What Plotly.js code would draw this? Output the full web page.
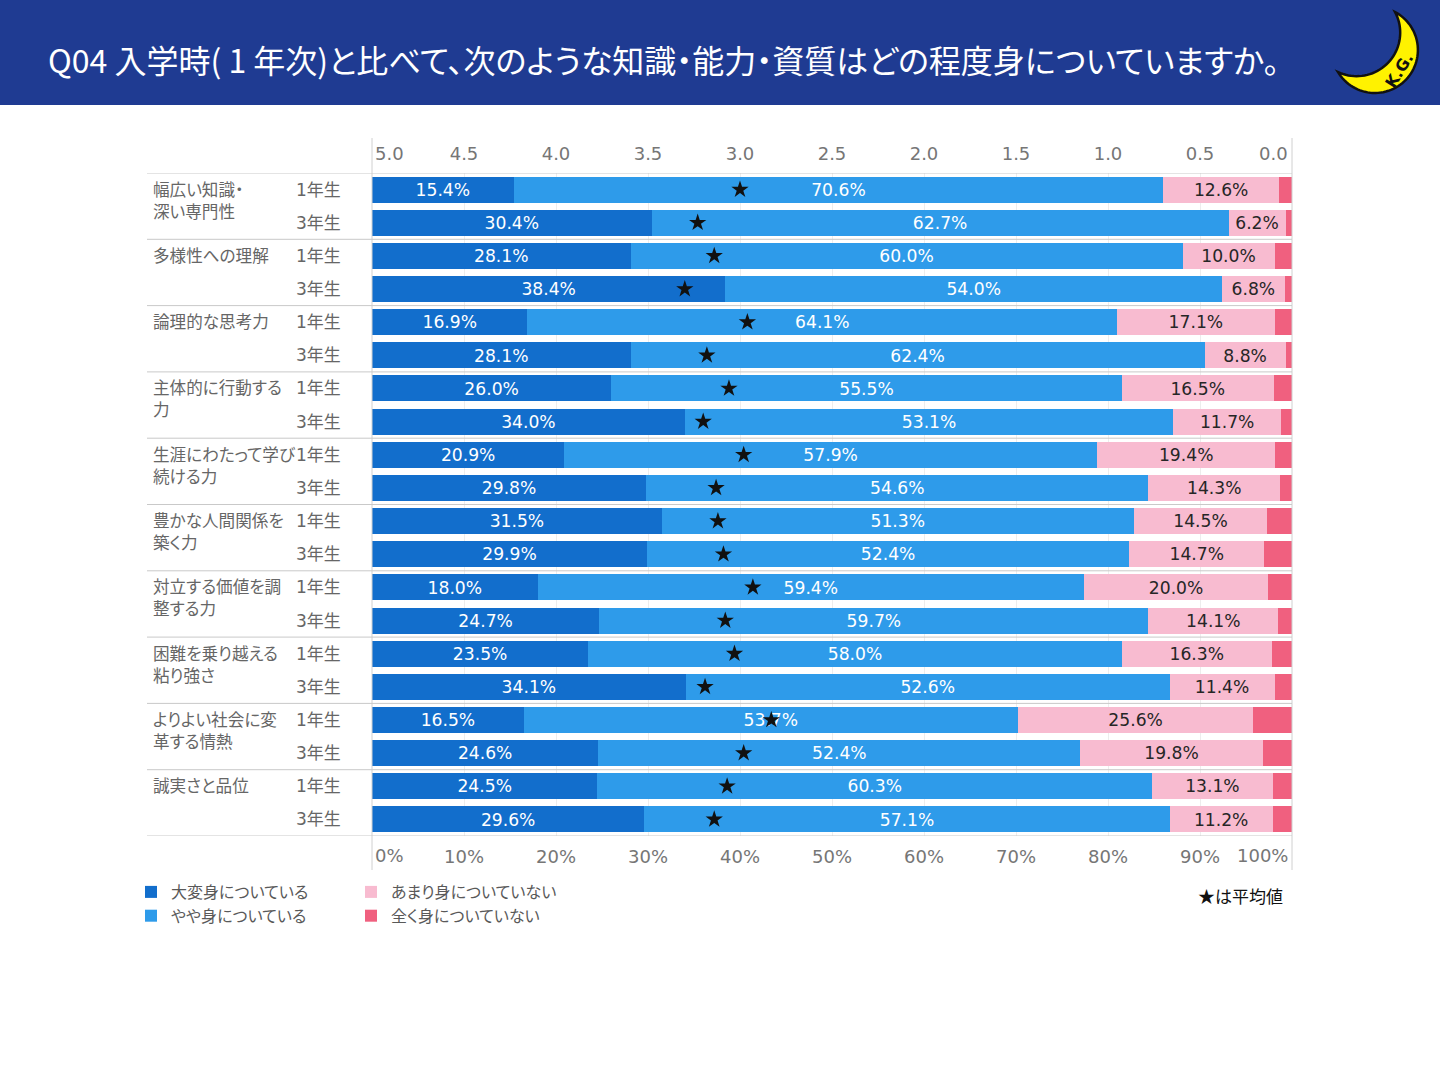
<!DOCTYPE html>
<html>
<head>
<meta charset="utf-8">
<script src="https://cdn.plot.ly/plotly-3.0.1.min.js"></script>
<style>
html,body{margin:0;padding:0;background:#fff;}
#chart{width:1440px;height:1080px;}
#chart text{font-feature-settings:"palt" 1;}
</style>
</head>
<body>
<div id="chart"></div>
<script>
// ---- data ----
const categories = [
  '幅広い知識・<br>深い専門性',
  '多様性への理解',
  '論理的な思考力',
  '主体的に行動する<br>力',
  '生涯にわたって学び<br>続ける力',
  '豊かな人間関係を<br>築く力',
  '対立する価値を調<br>整する力',
  '困難を乗り越える<br>粘り強さ',
  'よりよい社会に変<br>革する情熱',
  '誠実さと品位'
];
const years = ['1年生', '3年生'];
const seriesNames = ['大変身についている', 'やや身についている', 'あまり身についていない', '全く身についていない'];
const v1 = [15.4, 30.4, 28.1, 38.4, 16.9, 28.1, 26.0, 34.0, 20.9, 29.8, 31.5, 29.9, 18.0, 24.7, 23.5, 34.1, 16.5, 24.6, 24.5, 29.6];
const v2 = [70.6, 62.7, 60.0, 54.0, 64.1, 62.4, 55.5, 53.1, 57.9, 54.6, 51.3, 52.4, 59.4, 59.7, 58.0, 52.6, 53.7, 52.4, 60.3, 57.1];
const v3 = [12.6, 6.2, 10.0, 6.8, 17.1, 8.8, 16.5, 11.7, 19.4, 14.3, 14.5, 14.7, 20.0, 14.1, 16.3, 11.4, 25.6, 19.8, 13.1, 11.2];
const v4 = [1.4, 0.7, 1.9, 0.8, 1.9, 0.7, 2.0, 1.2, 1.8, 1.3, 2.7, 3.0, 2.6, 1.5, 2.2, 1.9, 4.2, 3.2, 2.1, 2.1];
const avg = [3.00, 3.23, 3.14, 3.30, 2.96, 3.18, 3.06, 3.20, 2.98, 3.13, 3.12, 3.09, 2.93, 3.08, 3.03, 3.19, 2.83, 2.98, 3.07, 3.14];
const pctTicks = [10, 20, 30, 40, 50, 60, 70, 80, 90];
const avgTicks = [4.5, 4.0, 3.5, 3.0, 2.5, 2.0, 1.5, 1.0, 0.5];

// ---- styling / layout helpers ----
const colors = ['#126ECC', '#2E9BEA', '#F8BBD0', '#F0607F'];
const textColors = ['#FFFFFF', '#FFFFFF', '#262626', null];
const FONT = 'DejaVu Sans, Noto Sans CJK JP, sans-serif';
const JP = 'Noto Sans CJK JP, DejaVu Sans, sans-serif';
const L = 372, R = 1292, T = 173, B = 836, W = 1440, H = 1080;
const px = x => (x - L) / (R - L);
const py = y => (B - y) / (B - T);

const rowKeys = [];
categories.forEach((c, g) => years.forEach(yr => rowKeys.push(g + '|' + yr)));

const vals = [v1, v2, v3, v4];
const traces = vals.map((v, i) => ({
  type: 'bar', orientation: 'h', name: seriesNames[i],
  x: v, y: rowKeys,
  marker: {color: colors[i], line: {width: 0}},
  text: textColors[i] ? v.map(d => d.toFixed(1) + '%') : null,
  textposition: textColors[i] ? 'inside' : 'none',
  insidetextanchor: 'middle',
  textangle: 0,
  textfont: {family: FONT, size: 18, color: textColors[i] || '#000'},
  hoverinfo: 'skip',
  legend: i < 2 ? 'legend' : 'legend2',
  legendrank: i
}));
traces.push({
  type: 'scatter', mode: 'markers', x: avg, y: rowKeys, xaxis: 'x2', yaxis: 'y',
  marker: {symbol: 'star', size: 13, color: '#111111', line: {width: 0}},
  showlegend: false, hoverinfo: 'skip'
});

// ---- annotations ----
const annotations = [];
categories.forEach((c, g) => {
  annotations.push({
    xref: 'paper', yref: 'y', x: px(151), y: rowKeys[g * 2], xanchor: 'left', yanchor: 'top',
    yshift: 15, text: c, showarrow: false, align: 'left',
    font: {family: JP, size: 16.6, color: '#666666'}
  });
});
rowKeys.forEach((k, i) => {
  annotations.push({
    xref: 'paper', yref: 'y', x: px(294), y: k, xanchor: 'left', yanchor: 'middle',
    text: years[i % 2], showarrow: false, font: {family: FONT, size: 17, color: '#666666'}
  });
});
// end tick labels (left/right aligned like the reference)
annotations.push(
  {xref: 'paper', yref: 'paper', x: 0, y: py(856), xanchor: 'left', yanchor: 'middle', xshift: 1, text: '0%', showarrow: false, font: {family: FONT, size: 18, color: '#767676'}},
  {xref: 'paper', yref: 'paper', x: 1, y: py(856), xanchor: 'right', yanchor: 'middle', xshift: -2, text: '100%', showarrow: false, font: {family: FONT, size: 18, color: '#767676'}},
  {xref: 'paper', yref: 'paper', x: 0, y: py(153), xanchor: 'left', yanchor: 'middle', xshift: 1, text: '5.0', showarrow: false, font: {family: FONT, size: 18, color: '#767676'}},
  {xref: 'paper', yref: 'paper', x: 1, y: py(153), xanchor: 'right', yanchor: 'middle', xshift: -2, text: '0.0', showarrow: false, font: {family: FONT, size: 18, color: '#767676'}},
  {xref: 'paper', yref: 'paper', x: px(1285), y: py(896), xanchor: 'right', yanchor: 'middle', text: '★は平均値', showarrow: false, font: {family: JP, size: 17, color: '#111111'}},
  {xref: 'paper', yref: 'paper', x: px(1399), y: py(70), xanchor: 'center', yanchor: 'middle', text: '<b>K.G.</b>', textangle: -58, showarrow: false, font: {family: FONT, size: 16, color: '#111111'}}
);

// ---- shapes ----
const shapes = [];
shapes.push({type: 'rect', xref: 'paper', yref: 'paper', x0: px(0), x1: px(W), y0: py(0), y1: py(105), fillcolor: '#1F3B92', line: {width: 0}, layer: 'below'});
shapes.push({type: 'line', xref: 'paper', yref: 'paper', x0: 0, x1: 0, y0: py(138), y1: py(870), line: {color: '#D0D0D0', width: 1}});
shapes.push({type: 'line', xref: 'paper', yref: 'paper', x0: 1, x1: 1, y0: py(138), y1: py(870), line: {color: '#D0D0D0', width: 1}});
for (let g = 0; g <= categories.length; g++) {
  shapes.push({type: 'line', xref: 'paper', yref: 'y', x0: px(147), x1: 1, y0: g * 2 - 0.5, y1: g * 2 - 0.5, line: {color: '#C9C9C9', width: 1}});
}
// crescent moon logo
function arc(cx, cy, r, a0, a1, n) {
  const pts = [];
  for (let i = 0; i <= n; i++) {
    const a = (a0 + (a1 - a0) * i / n) * Math.PI / 180;
    pts.push([cx + r * Math.cos(a), cy + r * Math.sin(a)]);
  }
  return pts;
}
const moonPts = arc(1374.9, 50, 43, -62, 149, 60).concat(arc(1356.6, 32.6, 43.6, 115.3, -28.2, 40));
const moonPath = 'M' + moonPts.map(p => px(p[0]).toFixed(5) + ',' + py(p[1]).toFixed(5)).join('L') + 'Z';
shapes.push({type: 'path', xref: 'paper', yref: 'paper', path: moonPath, fillcolor: '#FFF200', line: {color: '#111111', width: 2.5}});

const tickFont = {family: FONT, size: 18, color: '#767676'};
const layout = {
  width: W, height: H,
  margin: {l: L, r: W - R, t: T, b: H - B, pad: 0},
  paper_bgcolor: '#FFFFFF', plot_bgcolor: 'rgba(0,0,0,0)',
  font: {family: FONT},
  title: {
    text: 'Q04 入学時( 1 年次)と比べて、次のような知識・能力・資質はどの程度身についていますか。',
    xref: 'container', yref: 'container', x: 48 / W, xanchor: 'left', y: 1 - 62 / H, yanchor: 'middle',
    font: {family: JP, size: 32, color: '#FFFFFF'}
  },
  barmode: 'stack', bargap: 0.215,
  xaxis: {
    range: [0, 100], tickvals: pctTicks, ticktext: pctTicks.map(t => t + '%'),
    showgrid: true, gridcolor: '#EDEDED', gridwidth: 1, zeroline: false, showline: false,
    ticks: '', tickfont: tickFont, fixedrange: true, ticklabelstandoff: 8
  },
  xaxis2: {
    overlaying: 'x', side: 'top', range: [5, 0], tickvals: avgTicks, ticktext: avgTicks.map(t => t.toFixed(1)),
    showgrid: false, zeroline: false, showline: false, ticks: '', tickfont: tickFont, fixedrange: true, ticklabelstandoff: 8
  },
  yaxis: {
    type: 'category', categoryorder: 'array', categoryarray: rowKeys, range: [rowKeys.length - 0.5, -0.5],
    showticklabels: false, showgrid: false, zeroline: false, showline: false, ticks: '', fixedrange: true
  },
  showlegend: true,
  legend: {
    x: px(131), y: py(875), xanchor: 'left', yanchor: 'top', orientation: 'v', traceorder: 'normal',
    bgcolor: 'rgba(0,0,0,0)', font: {family: JP, size: 16, color: '#595959'}, tracegroupgap: 0, itemclick: false
  },
  legend2: {
    x: px(351), y: py(875), xanchor: 'left', yanchor: 'top', orientation: 'v', traceorder: 'normal',
    bgcolor: 'rgba(0,0,0,0)', font: {family: JP, size: 16, color: '#595959'}, tracegroupgap: 0, itemclick: false
  },
  annotations: annotations,
  shapes: shapes
};

Plotly.newPlot('chart', traces, layout, {displayModeBar: false, staticPlot: true});
</script>
</body>
</html>
